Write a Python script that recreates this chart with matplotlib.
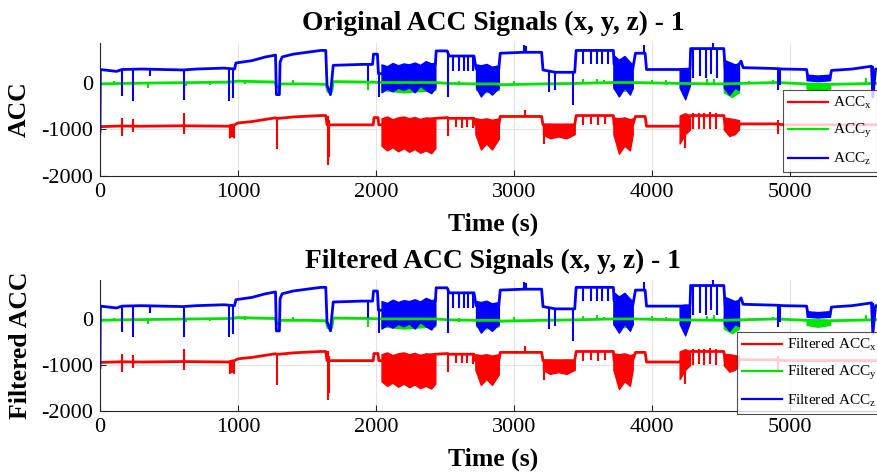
import numpy as np
import matplotlib
matplotlib.use("Agg")
import matplotlib.pyplot as plt

plt.rcParams["font.family"] = ["Liberation Serif", "DejaVu Serif"]
plt.rcParams["mathtext.fontset"] = "custom"
plt.rcParams["mathtext.rm"] = "Liberation Serif"
plt.rcParams["mathtext.it"] = "Liberation Serif"
plt.rcParams["axes.unicode_minus"] = False

# ---- data (time in s, ACC units) ----
# baseline of each signal: (time, value)
x_points = [(0, -940), (150, -925), (300, -930), (600, -920), (935, -930), (975, -900),
            (1000, -860), (1100, -830), (1270, -750), (1278, -760), (1300, -760), (1400, -730),
            (1600, -700), (1636, -700), (1645, -900), (1690, -900), (1980, -900), (1985, -745),
            (2015, -745), (2020, -900), (2040, -900), (2430, -760), (2520, -745), (2530, -760),
            (2710, -760), (2720, -900), (2890, -900), (2900, -720), (3200, -720), (3210, -900),
            (3440, -900), (3450, -700), (3720, -700), (3725, -900), (3860, -900), (3880, -720),
            (3950, -720), (3960, -930), (4200, -930), (4275, -700), (4520, -700), (4530, -900),
            (4630, -900), (4645, -880), (4900, -880), (4960, -900), (5700, -900)]
y_points = [(0, -20), (150, -10), (400, 0), (700, 10), (940, 20), (1000, 40), (1270, 20),
            (1280, -90), (1300, -90), (1310, -20), (1500, -20), (1640, -30), (1650, -180),
            (1680, -180), (1690, 30), (1950, 20), (2040, 10), (2430, 10), (2530, -10),
            (2720, -20), (2890, -20), (2900, -40), (3200, -20), (3440, -10), (3720, 10),
            (3860, 10), (4200, -10), (4520, -20), (4630, -10), (4900, 10), (5120, -20),
            (5290, -30), (5600, -10), (5700, 0)]
z_points = [(0, -1050), (3, 290), (60, 270), (120, 250), (160, 290), (300, 300), (450, 290),
            (600, 280), (700, 300), (800, 310), (900, 320), (975, 300), (985, 430), (1100, 480),
            (1200, 560), (1272, 600), (1278, -250), (1300, -250), (1305, 450), (1320, 560),
            (1400, 620), (1500, 660), (1600, 700), (1636, 700), (1645, -50), (1670, -250),
            (1690, 380), (1800, 390), (1900, 400), (1975, 400), (1982, 620), (2010, 620),
            (2018, 200), (2040, 200), (2430, 400), (2436, 690), (2515, 690), (2530, 580),
            (2710, 580), (2725, 300), (2890, 300), (2900, 640), (3070, 660), (3200, 660),
            (3210, 280), (3300, 230), (3440, 230), (3450, 700), (3720, 700), (3725, 400),
            (3860, 300), (3880, 640), (3950, 640), (3960, 290), (4200, 290), (4275, 300),
            (4280, 740), (4520, 740), (4530, 300), (4630, 400), (4645, 470), (4660, 330),
            (4900, 310), (4950, 300), (5120, 290), (5130, 110), (5290, 100), (5300, 270),
            (5450, 300), (5590, 360), (5600, -300), (5620, 300), (5700, 300)]

# short spikes: (time, low, high)
x_spikes = [(163, -1140, -760), (242, -1050, -780), (612, -1100, -640), (1285, -1430, -760),
            (1650, -1757, -700), (1662, -1600, -800), (2525, -1140, -745), (2580, -950, -760),
            (2620, -960, -760), (2660, -950, -760), (2700, -970, -760), (3080, -720, -575),
            (3215, -1320, -900), (3500, -900, -700), (3560, -880, -700), (3610, -900, -700),
            (3660, -880, -700), (4240, -1400, -700), (4300, -1000, -650), (4340, -980, -640),
            (4380, -1000, -650), (4420, -980, -620), (4460, -990, -650), (4910, -1100, -800)]
y_spikes = [(100, -30, 40), (240, -40, 50), (350, -100, 20), (620, -60, 30), (800, -40, 40),
            (1050, -20, 70), (1400, -40, 60), (1945, -160, 30), (2600, -50, 40), (3000, -30, 50),
            (3500, -20, 80), (3600, -20, 90), (3650, -20, 60), (4000, -30, 70), (4100, -40, 60),
            (4400, -40, 80), (4450, -30, 90), (4700, -30, 40), (4880, -20, 60), (5550, -20, 100)]
z_spikes = [(157, -280, 290), (237, -390, 280), (360, 150, 300), (609, -375, 290),
            (935, -390, 320), (965, -320, 300), (1945, 40, 400), (2020, -300, 200),
            (2520, -300, 690), (2560, 250, 580), (2600, 250, 580), (2640, 250, 580),
            (2670, 250, 580), (2700, 250, 580), (3075, 640, 820), (3090, 640, 800),
            (3250, -200, 230), (3300, -150, 230), (3430, -470, 230), (3500, 400, 700),
            (3560, 400, 700), (3600, 400, 700), (3640, 400, 700), (3680, 400, 700),
            (3945, 640, 820), (4300, 100, 740), (4350, 150, 740), (4390, 100, 740),
            (4430, 200, 740), (4440, 740, 850), (4470, 100, 740), (4910, -160, 310),
            (4930, -50, 310), (5600, -300, 360)]

# dense noisy stretches drawn as envelopes: one list of (time, low, high) per stretch
x_bands = [
    [(935, -1170, -900), (955, -1130, -880), (970, -1170, -900)],
    [(2040, -1350, -760), (2080, -1450, -720), (2120, -1380, -780), (2160, -1470, -740),
     (2200, -1400, -720), (2240, -1480, -760), (2280, -1420, -730), (2320, -1500, -780),
     (2360, -1450, -740), (2400, -1510, -760), (2430, -1400, -780)],
    [(2720, -1100, -760), (2760, -1430, -780), (2800, -1300, -760), (2840, -1430, -790),
     (2890, -1200, -760)],
    [(3210, -1100, -880), (3260, -1190, -880), (3320, -1150, -900), (3380, -1190, -880),
     (3440, -1100, -900)],
    [(3720, -1100, -740), (3760, -1520, -760), (3800, -1350, -740), (3840, -1450, -780),
     (3860, -1100, -760)],
    [(4200, -1300, -700), (4240, -1100, -650), (4275, -1000, -700)],
    [(4520, -1000, -750), (4560, -1140, -760), (4600, -1100, -780), (4630, -1000, -800)],
]
y_bands = [
    [(2040, -150, 50), (2200, -200, 60), (2430, -150, 40)],
    [(2725, -150, 40), (2800, -200, 50), (2890, -150, 30)],
    [(3720, -120, 60), (3800, -170, 50), (3860, -120, 40)],
    [(4520, -200, 50), (4580, -300, 40), (4630, -200, 30)],
    [(5120, -120, -20), (5200, -160, -20), (5290, -120, -20)],
]
z_bands = [
    [(2040, -200, 400), (2080, -120, 360), (2120, -180, 430), (2160, -100, 380),
     (2200, -150, 420), (2240, -90, 400), (2280, -200, 440), (2320, -60, 390),
     (2360, -150, 470), (2400, -220, 420), (2430, -100, 440)],
    [(2725, -100, 400), (2760, -290, 380), (2800, -150, 410), (2840, -250, 350),
     (2890, -100, 380)],
    [(3720, -100, 600), (3760, -290, 500), (3800, -100, 580), (3840, -250, 450),
     (3860, -100, 400)],
    [(4200, -100, 300), (4240, -350, 320), (4275, -50, 300)],
    [(4520, -100, 500), (4560, -250, 450), (4600, -100, 400), (4630, -150, 400)],
    [(5120, 60, 180), (5200, 40, 160), (5290, 60, 180)],
]

RED, GREEN, BLUE = "#ff0000", "#00e600", "#0000ff"
LW = 2.0


def draw_signal(ax, points, spikes, bands, color, label):
    t, v = np.array(points, dtype=float).T
    ax.plot(t, v, color=color, lw=LW, label=label)
    for band in bands:
        bt, lo, hi = np.array(band, dtype=float).T
        ax.fill_between(bt, lo, hi, color=color, lw=1.0)
    st, slo, shi = np.array(spikes, dtype=float).T
    ax.vlines(st, slo, shi, color=color, lw=1.5)


def draw_panel(ax, title, ylabel, labels, legend_xy, ylabel_x):
    draw_signal(ax, x_points, x_spikes, x_bands, RED, labels[0])
    draw_signal(ax, y_points, y_spikes, y_bands, GREEN, labels[1])
    draw_signal(ax, z_points, z_spikes, z_bands, BLUE, labels[2])

    ax.set_xlim(0, 5700)
    ax.set_ylim(-2000, 860)
    ax.set_xticks([0, 1000, 2000, 3000, 4000, 5000])
    ax.set_yticks([-2000, -1000, 0])
    ax.tick_params(direction="in", length=4, labelsize=16, pad=5, color="#262626")
    ax.grid(True, color="#e4e4e4", lw=0.8)
    ax.set_axisbelow(True)
    for side in ("top", "right"):
        ax.spines[side].set_visible(False)
    for side in ("left", "bottom"):
        ax.spines[side].set_color("#262626")
        ax.spines[side].set_linewidth(0.8)

    ax.set_title(title, fontsize=19.8, fontweight="bold", pad=9)
    ax.set_xlabel("Time (s)", fontsize=18.5, fontweight="bold", labelpad=7.5)
    ax.set_ylabel(ylabel, fontsize=18.5, fontweight="bold")
    ax.yaxis.set_label_coords(ylabel_x, 0.5)

    leg = ax.legend(loc="upper left", bbox_to_anchor=legend_xy,
                    bbox_transform=ax.figure.transFigure, fontsize=11,
                    frameon=True, fancybox=False, borderaxespad=0,
                    handlelength=2.6, handletextpad=0.3, labelspacing=0.7,
                    borderpad=0.35)
    leg.get_frame().set_edgecolor("#262626")
    leg.get_frame().set_linewidth(0.8)
    for line in leg.get_lines():
        line.set_linewidth(1.6)


fig = plt.figure(figsize=(8.77, 4.75), dpi=100)
ax1 = fig.add_axes([0.1140, 0.6295, 0.897, 0.28])
ax2 = fig.add_axes([0.1140, 0.1347, 0.897, 0.2758])

draw_panel(ax1, "Original ACC Signals (x, y, z) - 1", "ACC",
           ["ACC$_{\\mathrm{x}}$", "ACC$_{\\mathrm{y}}$", "ACC$_{\\mathrm{z}}$"],
           (0.8928, 0.8105), -0.088)
draw_panel(ax2, "Filtered ACC Signals (x, y, z) - 1", "Filtered ACC",
           ["Filtered ACC$_{\\mathrm{x}}$", "Filtered ACC$_{\\mathrm{y}}$",
            "Filtered ACC$_{\\mathrm{z}}$"],
           (0.8404, 0.3011), -0.086)

fig.savefig("out.png", dpi=100)
